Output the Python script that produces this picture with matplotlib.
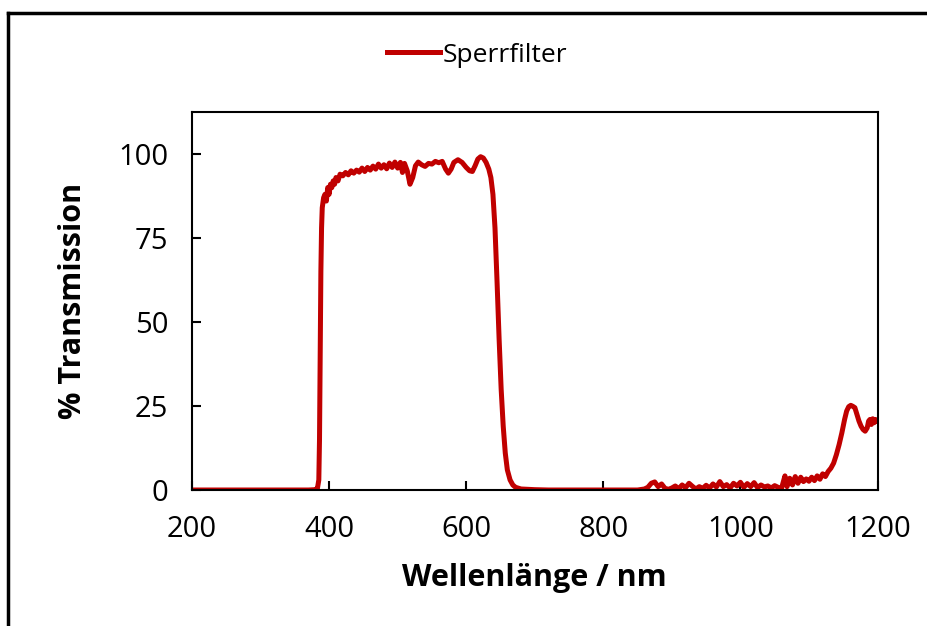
import matplotlib
matplotlib.use("Agg")
import matplotlib.pyplot as plt
from matplotlib.lines import Line2D

wavelength = [200, 370, 380, 383, 385, 386, 387, 388, 389, 390, 392, 394, 396, 398,
              400, 402, 404, 406, 408, 410, 413, 416, 420, 424, 428, 432, 436, 440,
              444, 448, 452, 456, 460, 464, 468, 472, 476, 480, 484, 488, 492, 496,
              500, 504, 507, 510, 514, 518, 522, 526, 530, 535, 540, 545, 550, 555,
              560, 565, 570, 574, 578, 582, 588, 594, 600, 605, 609, 613, 617, 621,
              625, 629, 633, 636, 639, 642, 645, 648, 651, 654, 657, 660, 664, 668,
              672, 680, 700, 720, 850, 860, 865, 870, 875, 880, 885, 890, 895, 900,
              905, 910, 915, 920, 925, 930, 935, 940, 945, 950, 955, 960, 965, 970,
              975, 980, 985, 990, 995, 1000, 1005, 1010, 1015, 1020, 1025, 1030, 1035,
              1040, 1045, 1050, 1055, 1060, 1065, 1068, 1072, 1076, 1080, 1084, 1088,
              1092, 1096, 1100, 1104, 1108, 1112, 1116, 1120, 1124, 1128, 1132, 1136,
              1140, 1144, 1148, 1152, 1155, 1158, 1161, 1164, 1167, 1170, 1173, 1176,
              1179, 1182, 1185, 1187, 1189, 1191, 1193, 1195, 1197, 1200]

transmission = [0, 0, 0.1, 0.5, 3, 15, 40, 65, 78, 84, 87, 88, 86, 90,
                88, 91, 90, 92, 91, 93, 92, 94, 93.5, 94.5, 93.8, 95, 94.3, 95.2,
                94.6, 95.8, 94.8, 96, 95.2, 96.4, 95.5, 97, 95.8, 96.8, 95.6, 97.3, 96, 97.6,
                95.8, 97.5, 94.5, 97.2, 95, 91, 93, 96.5, 97.6, 96.8, 96.3, 97.2, 97, 97.8,
                97.4, 97.8, 95.5, 94.3, 95.5, 97.5, 98.3, 97.5, 96, 95, 94.8, 96.5, 98.5, 99.2,
                98.8, 97.5, 95.5, 93, 88, 78, 62, 45, 30, 19, 11, 6, 3, 1.5,
                0.8, 0.3, 0.1, 0, 0, 0.3, 0.8, 2.0, 2.4, 1.0, 1.8, 0.5, 0.2, 0.6,
                1.2, 0.4, 1.5, 0.7, 2.0, 1.1, 0.3, 1.0, 0.5, 1.4, 0.6, 1.8, 0.9, 2.5,
                1.0, 1.6, 0.6, 2.0, 1.2, 2.3, 0.8, 1.9, 1.0, 2.2, 0.7, 1.5, 0.9,
                1.2, 0.6, 1.3, 0.8, 0.5, 4.2, 1.0, 3.5, 1.5, 4.0, 2.0, 3.8,
                2.5, 3.3, 2.6, 3.8, 2.8, 4.2, 3.2, 4.8, 4.0, 5.5, 6.5, 8,
                10.5, 13.5, 17, 21, 23.5, 24.8, 25.2, 24.9, 24.5, 22.5, 20.5, 19,
                18, 17.5, 18.5, 20.5, 21, 19.5, 21.2, 20, 21, 20.5]

series_name = "Sperrfilter"
x_ticks = [200, 400, 600, 800, 1000, 1200]
y_ticks = [0, 25, 50, 75, 100]
x_label = "Wellenlänge / nm"
y_label = "% Transmission"

plt.rcParams['font.family'] = ['Open Sans', 'DejaVu Sans']

fig = plt.figure(figsize=(9.27, 6.26), dpi=100)
ax = fig.add_axes([192/927, 1-490/626, (877.5-192)/927, (490-112)/626])

ax.plot(wavelength, transmission, color='#C00000', lw=3.6, solid_joinstyle='round',
        label=series_name)
ax.set_xlim(200, 1200)
ax.set_ylim(0, 112.5)
ax.set_xticks(x_ticks)
ax.set_yticks(y_ticks)
ax.tick_params(direction='in', length=6.5, width=1.5, labelsize=21, colors='black')
ax.tick_params(axis='y', pad=17)
ax.tick_params(axis='x', pad=18)
for s in ax.spines.values():
    s.set_linewidth(1.5)
    s.set_color('black')

ax.set_xlabel(x_label, fontsize=22, fontweight='bold', labelpad=14)
ax.set_ylabel(y_label, fontsize=22, fontweight='bold', labelpad=22)

fig.legend(loc='center', bbox_to_anchor=(477/927, 1-55/626), frameon=False,
           fontsize=19, handlelength=2.0, handletextpad=0.1)

# outer chart frame (partly cut off at right and bottom)
fig.add_artist(Line2D([8/927, 1.0], [1-13/626, 1-13/626], transform=fig.transFigure,
                      color='black', lw=2.5))
fig.add_artist(Line2D([8/927, 8/927], [0, 1-13/626], transform=fig.transFigure,
                      color='black', lw=2.5))

fig.savefig('out.png', dpi=100)
